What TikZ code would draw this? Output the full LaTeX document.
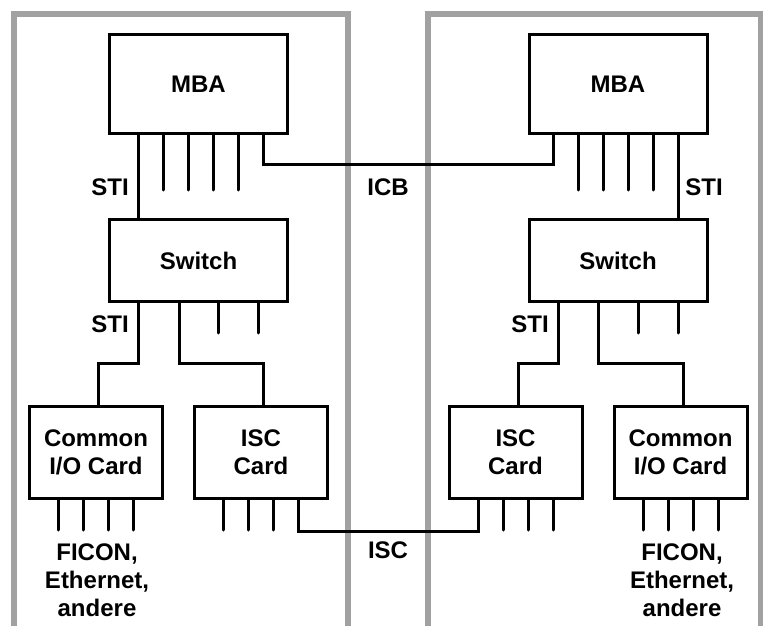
\documentclass[tikz,border=0pt]{standalone}
\usepackage{fontspec}
\setmainfont{Liberation Sans}
\begin{document}
\begin{tikzpicture}[x=1pt,y=-1pt,
  lbl/.style={font=\fontsize{24}{28}\selectfont\bfseries, inner sep=0pt, align=center},
  unit/.style={draw=black, line width=3pt, inner sep=0pt, lbl},
  bigbox/.style={unit, minimum width=178pt, minimum height=99pt},
  swbox/.style={unit, minimum width=178pt, minimum height=82pt},
  card/.style={unit, minimum width=133pt, minimum height=92pt},
  wire/.style={line width=3pt, black},
  pin/.style={line width=3pt, black, line cap=round},
  frame/.style={line width=6pt, draw=black!37}]
\useasboundingbox (0,0) rectangle (763,626);

% two system frames, open at the bottom
\draw[frame] (14,640) -- (14,14) -- (348,14) -- (348,640);
\draw[frame] (428,640) -- (428,14) -- (761,14) -- (761,640);

% left system
\node[bigbox] (mbaL) at (198.5,84) {\raisebox{-3pt}{MBA}};
\node[swbox]  (swL)  at (198.5,260.5) {Switch};
\node[card]   (cioL) at (96,452.5) {Common\\I/O Card};
\node[card]   (iscL) at (261,452.5) {ISC\\Card};

% right system
\node[bigbox] (mbaR) at (618,84) {\raisebox{-3pt}{MBA}};
\node[swbox]  (swR)  at (618,260.5) {Switch};
\node[card]   (iscR) at (515.5,452.5) {ISC\\Card};
\node[card]   (cioR) at (680.5,452.5) {Common\\I/O Card};

% STI links MBA -> Switch
\coordinate (stiL) at (138,0);
\coordinate (stiR) at (678,0);
\draw[wire] (stiL |- mbaL.south) -- (stiL |- swL.north);
\draw[wire] (stiR |- mbaR.south) -- (stiR |- swR.north);

% ICB link between the MBAs
\coordinate (icbA) at (263,164);
\coordinate (icbB) at (553,164);
\draw[wire] (icbA |- mbaL.south) -- (icbA) -- (icbB) -- (icbB |- mbaR.south);

% Switch -> cards, left
\coordinate (sL1) at (138,363);
\coordinate (sL2) at (179,363);
\draw[wire] (sL1 |- swL.south) -- (sL1) -- (98,363) -- ([xshift=2pt]cioL.north);
\draw[wire] (sL2 |- swL.south) -- (sL2) -- (263,363) -- ([xshift=2pt]iscL.north);

% Switch -> cards, right
\coordinate (sR1) at (558,363);
\coordinate (sR2) at (598,363);
\draw[wire] (sR1 |- swR.south) -- (sR1) -- (518,363) -- ([xshift=2.5pt]iscR.north);
\draw[wire] (sR2 |- swR.south) -- (sR2) -- (683,363) -- ([xshift=2.5pt]cioR.north);

% ISC link between the ISC cards
\coordinate (iscA) at (298,531);
\coordinate (iscB) at (478,531);
\draw[wire] (iscA |- iscL.south) -- (iscA) -- (iscB) -- (iscB |- iscR.south);

% unused ports
\foreach \x in {163,188,213,238} {\coordinate (p) at (\x,190); \draw[pin] (p |- mbaL.south) -- (p);}
\foreach \x in {578,603,628,653} {\coordinate (p) at (\x,190); \draw[pin] (p |- mbaR.south) -- (p);}
\foreach \x in {218,258} {\coordinate (p) at (\x,333); \draw[pin] (p |- swL.south) -- (p);}
\foreach \x in {638,678} {\coordinate (p) at (\x,333); \draw[pin] (p |- swR.south) -- (p);}
\foreach \x in {58,83,108,133} {\coordinate (p) at (\x,530); \draw[pin] (p |- cioL.south) -- (p);}
\foreach \x in {223,248,273} {\coordinate (p) at (\x,530); \draw[pin] (p |- iscL.south) -- (p);}
\foreach \x in {503,528,553} {\coordinate (p) at (\x,530); \draw[pin] (p |- iscR.south) -- (p);}
\foreach \x in {643,668,693,718} {\coordinate (p) at (\x,530); \draw[pin] (p |- cioR.south) -- (p);}

% labels
\node[lbl] (tStiL)  at (110,187) {STI};
\node[lbl] (tIcb)   at (388,187) {ICB};
\node[lbl] (tStiR)  at (704,187) {STI};
\node[lbl] (tStiL2) at (110,324) {STI};
\node[lbl] (tStiR2) at (530,324) {STI};
\node[lbl] (tIsc)   at (388,550) {ISC};
\node[lbl] (tIoL)   at (97,580) {FICON,\\Ethernet,\\andere};
\node[lbl] (tIoR)   at (682,580) {FICON,\\Ethernet,\\andere};
\end{tikzpicture}
\end{document}
